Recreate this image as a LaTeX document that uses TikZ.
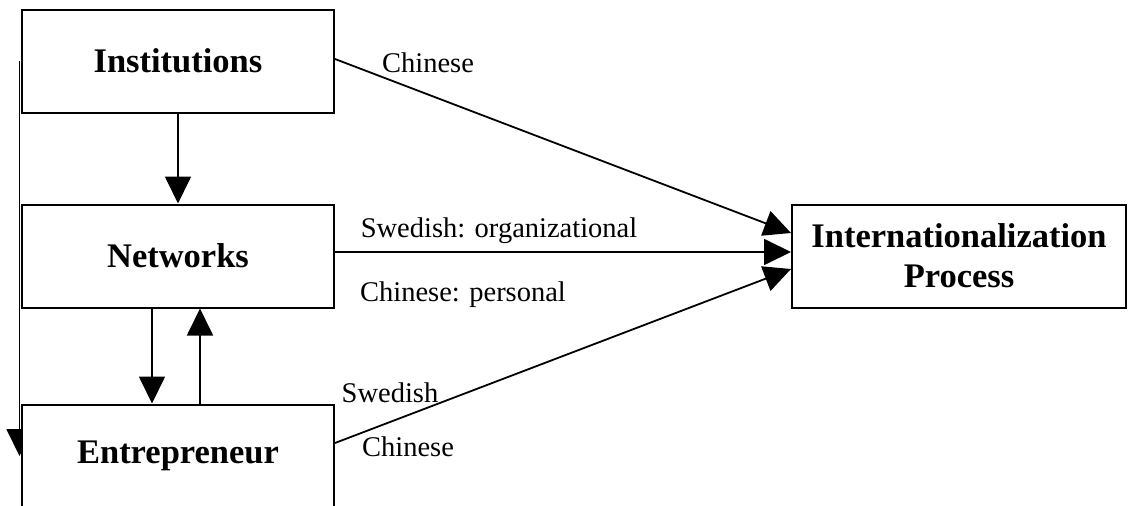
\documentclass[tikz,border=0pt]{standalone}
\usepackage{fontspec}
\setmainfont{Liberation Serif}
\usetikzlibrary{arrows.meta,backgrounds}

\begin{document}
\begin{tikzpicture}[x=1pt,y=-1pt,
    box/.style={draw, line width=2pt, fill=white, minimum width=312pt, minimum height=103pt,
        inner sep=0pt, align=center, font=\fontsize{34.5}{40}\selectfont\bfseries},
    lbl/.style={inner sep=0pt, anchor=base, font=\fontsize{28.5}{34}\selectfont},
    arr/.style={line width=1.8pt, -{Triangle[width=26pt,length=27pt]}}]
        \useasboundingbox (0,0) rectangle (1128,506);

        % Boxes
        \node[box] (inst) at (178,61) {Institutions};
        \node[box] (net) at (178,256) {Networks};
        \node[box] (ent) at (178,456) {Entrepreneur};
        \node[box, minimum width=334pt] (proc) at (959,256) {Internationalization\\Process};

        % Feedback along the left side
        \begin{pgfonlayer}{background}
            \draw[arr] ([xshift=-1.5pt]inst.west) -- ([xshift=-1.5pt]ent.west);
        \end{pgfonlayer}

        % Vertical links
        \draw[arr] (inst.south) -- (net.north);
        \draw[arr] ([xshift=-26pt]net.south) -- ([xshift=-26pt]ent.north);
        \draw[arr] ([xshift=22pt]ent.north) -- ([xshift=22pt]net.south);

        % Links to the process
        \draw[arr] ([yshift=2pt]inst.east) -- ([yshift=23pt]proc.west);
        \draw[arr] ([yshift=4pt]net.east) -- ([yshift=4pt]proc.west);
        \draw[arr] ([yshift=13pt]ent.east) -- ([yshift=-13pt]proc.west);

        % Labels
        \node[lbl] (lchn) at (428,72) {Chinese};
        \node[lbl] (lswo) at (499,237) {Swedish: organizational};
        \node[lbl] (lchp) at (463,301) {Chinese: personal};
        \node[lbl] (lswe) at (390,402) {Swedish};
        \node[lbl] (lche) at (408,456) {Chinese};
    \end{tikzpicture}
\end{document}
